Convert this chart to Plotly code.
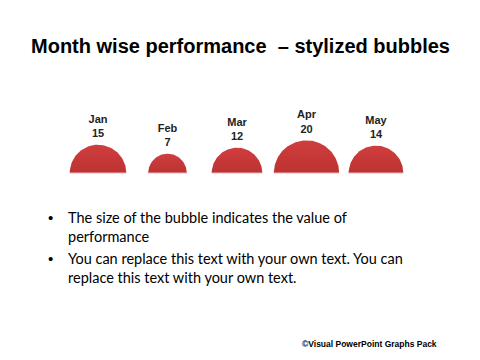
import numpy as np
import plotly.graph_objects as go

months = ["Jan", "Feb", "Mar", "Apr", "May"]
values = [15, 7, 12, 20, 14]
title_text = "Month wise performance  \u2013 stylized bubbles"
bullets = [
    "The size of the bubble indicates the value of<br>performance",
    "You can replace this text with your own text. You can<br>replace this text with your own text.",
]
footer = "\u00a9Visual PowerPoint Graphs Pack"

W, H = 480, 360
OFF = 8                     # page body margin offset
spacing_px = 69.5           # pixels per x unit
x0_px = 98 - OFF            # pixel position of first bubble centre
base_px = 173 - OFF         # baseline pixel (from top)
k = 7.3 / spacing_px        # radius in units = k*sqrt(value)

fig = go.Figure()
theta = np.linspace(0, np.pi, 80)
for i, (m, v) in enumerate(zip(months, values)):
    r = k * np.sqrt(v)
    xs = i + r * np.cos(theta)
    ys = r * np.sin(theta)
    fig.add_trace(go.Scatter(
        x=xs, y=ys, mode="lines", fill="toself",
        line=dict(color="rgba(0,0,0,0)", width=0),
        fillgradient=dict(type="vertical",
                          colorscale=[[0, "#BC3232"], [1, "#D03E3E"]]),
        hoverinfo="skip", showlegend=False))
    fig.add_trace(go.Scatter(
        x=[i - r, i + r], y=[0, 0], mode="lines",
        line=dict(color="#F0B8B8", width=1.2),
        hoverinfo="skip", showlegend=False))

radii = [k * np.sqrt(v) for v in values]
fig.add_trace(go.Scatter(
    x=list(range(len(months))),
    y=[r + 0.07 for r in radii],
    mode="text",
    text=[f"<b>{m}</b><br><b>{v}</b>" for m, v in zip(months, values)],
    textposition="top center",
    textfont=dict(family="Liberation Sans", size=11, color="#222222"),
    hoverinfo="skip", showlegend=False))

xr = [-x0_px / spacing_px, (W - x0_px) / spacing_px]
yr = [-(H - base_px) / spacing_px, base_px / spacing_px]

fig.update_layout(
    width=W, height=H,
    margin=dict(l=0, r=0, t=0, b=0),
    paper_bgcolor="white", plot_bgcolor="white",
    xaxis=dict(range=xr, visible=False, fixedrange=True),
    yaxis=dict(range=yr, visible=False, fixedrange=True),
)

fig.add_annotation(
    x=(240 - OFF) / W, y=1 - (46 - OFF) / H, xref="paper", yref="paper",
    text=f"<b>{title_text}</b>", showarrow=False,
    font=dict(family="Liberation Sans", size=20, color="black"),
    xanchor="center", yanchor="middle")

bullet_y = [227, 268]
for txt, yc in zip(bullets, bullet_y):
    fig.add_annotation(
        x=(50 - OFF) / W, y=1 - (yc - 10 - OFF) / H, xref="paper", yref="paper",
        text="\u2022", showarrow=False,
        font=dict(family="Liberation Sans", size=15, color="black"),
        xanchor="center", yanchor="middle")
    fig.add_annotation(
        x=(66 - OFF) / W, y=1 - (yc - OFF) / H, xref="paper", yref="paper",
        text=txt, showarrow=False, align="left",
        font=dict(family="Lato", size=14.5, color="black"),
        xanchor="left", yanchor="middle")

fig.add_annotation(
    x=(439 - OFF) / W, y=1 - (344 - OFF) / H, xref="paper", yref="paper",
    text=f"<b>{footer}</b>", showarrow=False,
    font=dict(family="Liberation Sans", size=8.5, color="black"),
    xanchor="right", yanchor="middle")

fig.write_html("out.html")
